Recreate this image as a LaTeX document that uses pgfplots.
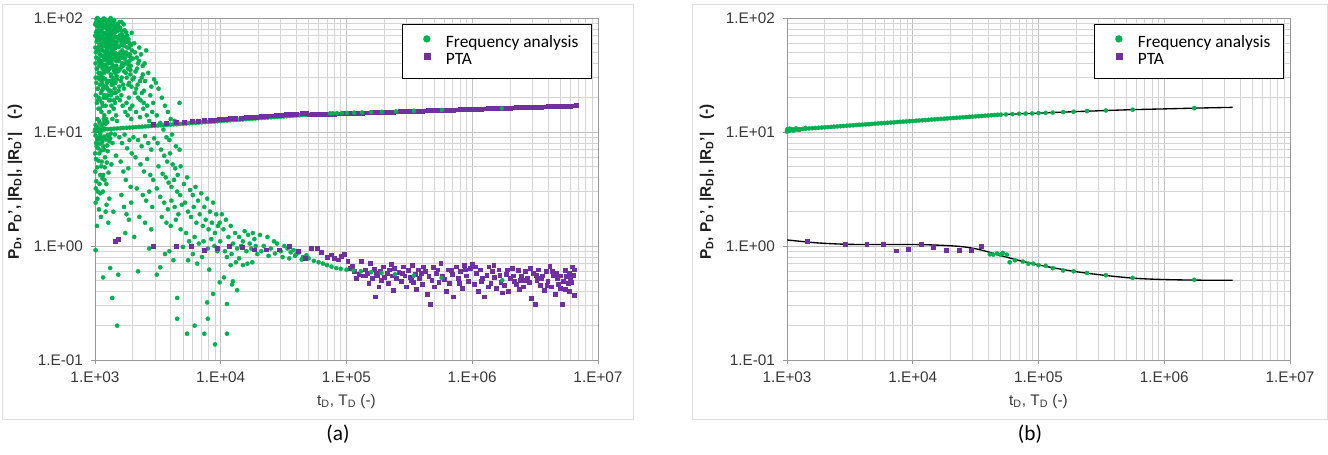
\documentclass[border=0pt]{standalone}
\usepackage{pgfplots}
\pgfplotsset{compat=1.18}
\usepackage{fontspec}
\setmainfont{Liberation Sans}
\newfontfamily\carlito{Carlito}
\definecolor{fgreen}{HTML}{00B050}
\definecolor{fpurple}{HTML}{7030A0}
\begin{document}
\begin{tikzpicture}
\path[use as bounding box] (0pt,0pt) rectangle (996pt,340.5pt);
\draw[black!13, line width=0.75pt] (1.5pt,26.25pt) rectangle (474.75pt,336.75pt);
\draw[black!13, line width=0.75pt] (519pt,26.25pt) rectangle (995.25pt,336.75pt);
\node[font=\carlito\fontsize{16}{18}\selectfont] at (253.5pt,15pt) {(a)};
\node[font=\carlito\fontsize{16}{18}\selectfont] at (772.5pt,15pt) {(b)};

% ---------------- panel (a)
\begin{axis}[
    at={(71.25pt,70.5pt)},
    scale only axis, width=377.25pt, height=256.5pt, anchor=south west,
    xmode=log, ymode=log, xmin=1e3, xmax=1e7, ymin=0.1, ymax=100,
    xtick={1e3,1e4,1e5,1e6,1e7}, xticklabels={1.E+03,1.E+04,1.E+05,1.E+06,1.E+07},
    ytick={0.1,1,10,100}, yticklabels={1.E-01,1.E+00,1.E+01,1.E+02},
    minor xtick={2e3,3e3,4e3,5e3,6e3,7e3,8e3,9e3,2e4,3e4,4e4,5e4,6e4,7e4,8e4,9e4,2e5,3e5,4e5,5e5,6e5,7e5,8e5,9e5,2e6,3e6,4e6,5e6,6e6,7e6,8e6,9e6},
    minor ytick={0.2,0.3,0.4,0.5,0.6,0.7,0.8,0.9,2,3,4,5,6,7,8,9,20,30,40,50,60,70,80,90},
    grid=both, major grid style={black!24, line width=0.55pt}, minor grid style={black!17, line width=0.55pt},
    axis line style={black!40, line width=0.7pt},
    tick align=outside, major tick length=3pt, minor tick length=0pt, xtick pos=bottom, ytick pos=left,
    tick style={black!40, line width=0.6pt},
    ticklabel style={font=\fontsize{11.5}{13}\selectfont, text=black!78},
    xticklabel style={yshift=-2pt},
    yticklabel style={xshift=-2.5pt},
    xlabel={t\textsubscript{D}, T\textsubscript{D} (-)},
    xlabel style={at={(axis description cs:0.5,-0.12)}, anchor=center, font=\fontsize{11.5}{13}\selectfont, text=black!78},
    ylabel={\bfseries P\textsubscript{D}, P\textsubscript{D}', |R\textsubscript{D}|, |R\textsubscript{D}'|\ \ \ (-)},
    ylabel style={at={(axis description cs:-0.159,0.52)}, anchor=center, font=\fontsize{11.5}{13}\selectfont, text=black!88},
    legend style={at={(rel axis cs:1,1)}, anchor=north east, xshift=-4.5pt, yshift=-4.5pt,
      draw=black, line width=1pt, fill=white, inner xsep=9.75pt, inner ysep=7.5pt,
      font=\carlito\fontsize{13}{15}\selectfont, column sep=4.25pt, row sep=0pt,
      nodes={inner sep=0pt, text height=9.5pt, text depth=3.25pt}},
    legend cell align=left,
    legend image code/.code={\path (-8.25pt,0pt) (10pt,0pt); \draw[#1, line width=0.3pt, every mark/.append style={scale=1.6}] plot coordinates {(0pt,3.2pt)};},
]
\addplot[only marks, mark=*, color=fgreen, mark size=1.6pt, line width=0.2pt] coordinates {
(1000,10.40) (1059,10.45) (1122,10.50) (1189,10.54) (1259,10.59) (1334,10.64) (1413,10.69) (1496,10.74) (1585,10.79) (1679,10.84)
(1778,10.89) (1884,10.94) (1995,10.99) (2113,11.04) (2239,11.09) (2371,11.14) (2512,11.19) (2661,11.24) (2818,11.29) (2985,11.35)
(3162,11.40) (3350,11.45) (3548,11.51) (3758,11.56) (3981,11.61) (4217,11.67) (4467,11.72) (4732,11.78) (5012,11.83) (5309,11.89)
(5623,11.94) (5957,12.00) (6310,12.05) (6683,12.11) (7079,12.16) (7499,12.22) (7943,12.27) (8414,12.33) (8913,12.39) (9441,12.44)
(10000,12.50) (10593,12.56) (11220,12.62) (11885,12.67) (12589,12.73) (13335,12.79) (14125,12.85) (14962,12.91) (15849,12.97) (16788,13.03)
(17783,13.09) (18836,13.15) (19953,13.21) (21135,13.27) (22387,13.33) (23714,13.39) (25119,13.46) (26607,13.52) (28184,13.58) (29854,13.64)
(31623,13.71) (33497,13.77) (35481,13.83) (37584,13.90) (39811,13.96) (42170,14.02) (44668,14.09) (47315,14.15) (50119,14.20) (53088,14.25) (56234,14.30)
(1000,10.1) (1010,10.6) (1020,10.2) (1030,10.5) (1040,10.3) (1050,10.7) (1070,10.4) (1090,10.55) (1130,10.3) (1180,10.75)
(1020,92) (1050,78) (1080,96) (1110,85) (1140,70) (1170,99) (1030,62) (1060,55) (1090,48) (1120,60) (1150,52) (1180,45) (1010,40) (1040,36) (1070,42) (1100,33) (1130,38) (1160,30) (1190,35) (1025,27) (1055,24) (1085,29) (1115,22) (1145,26) (1175,20) (1035,18) (1065,16) (1095,19) (1125,15) (1155,17) (1185,14) (1045,13) (1075,12.5) (1105,9) (1135,8.5) (1165,7.5) (1010,0.92) (1160,0.53) (1190,3.8) (1100,4.2) (1130,5.5)
(1210,97) (1240,88) (1270,93) (1300,80) (1330,100) (1360,90) (1390,84) (1420,96) (1450,75) (1480,68) (1220,72) (1250,64) (1280,57) (1310,66) (1340,50) (1370,58) (1400,47) (1430,54) (1460,44) (1490,62) (1215,39) (1245,45) (1275,35) (1305,41) (1335,32) (1365,37) (1395,29) (1425,34) (1455,27) (1485,31) (1230,25) (1260,21) (1290,23) (1320,19) (1350,17) (1380,22) (1410,16) (1440,18) (1470,14) (1500,20) (1225,13) (1290,9.2) (1320,8.8) (1380,8.0) (1440,9.5) (1260,6.8) (1350,5.2) (1470,6.2) (1230,3.5) (1300,2.6) (1400,2.0) (1320,0.64) (1370,0.35) (1500,0.2) (1530,0.56)
(1005,70) (1015,50) (1035,85) (1045,100) (1065,33) (1075,68) (1085,58) (1095,76) (1105,40) (1115,90) (1125,47) (1135,28) (1145,62) (1155,82) (1165,39) (1175,57) (1185,74) (1195,25) (1205,50) (1215,60) (1235,55) (1255,78) (1265,42) (1285,70) (1295,48) (1315,86) (1325,28) (1345,63) (1355,40) (1375,74) (1385,26) (1405,66) (1415,35) (1435,82) (1445,59) (1465,49) (1475,38) (1495,77) (1505,36) (1525,56) (1545,66) (1565,44) (1585,71) (1605,28) (1625,60) (1645,52) (1665,38) (1685,46) (1705,57) (1725,44) (1745,68) (1765,50) (1785,41) (1805,62) (1825,47) (1845,39) (1865,55) (1885,42) (1905,35) (1925,45)
(1015,21) (1055,19) (1095,16) (1135,23) (1175,13) (1215,17) (1255,24) (1295,15) (1335,21) (1375,13) (1415,19) (1455,22) (1495,12.5) (1010,11.5) (1050,11) (1090,12) (1130,11.5) (1170,12) (1210,11.8) (1250,12.2)
(1010,9.3) (1040,9) (1070,8.7) (1100,9.6) (1140,8.2) (1180,9.1) (1220,8.6) (1260,9.4) (1300,8.3) (1340,9.7) (1020,8.0) (1060,7.2) (1080,6.5) (1120,5.0) (1160,4.2) (1200,6.0) (1240,5.4) (1280,4.4) (1015,3.2) (1045,2.6) (1075,2.1) (1115,1.8) (1155,3.0) (1235,2.3) (1275,1.6)
(1003,88) (1008,55) (1012,30) (1018,75) (1022,45) (1028,98) (1032,36) (1038,66) (1042,24) (1048,52) (1052,90) (1058,30) (1062,72) (1068,44) (1072,20) (1078,84) (1082,38) (1088,64) (1092,26) (1098,52)
(1102,94) (1108,68) (1112,31) (1118,55) (1122,78) (1128,42) (1132,66) (1138,18) (1142,88) (1148,36) (1152,58) (1158,24) (1162,74) (1168,46) (1172,95) (1178,33) (1182,62) (1188,21) (1192,84) (1198,43) (1202,66) (1208,29) (1212,88) (1218,48) (1222,20) (1228,82) (1232,37) (1238,68) (1242,27) (1248,53)
(1252,92) (1258,34) (1262,70) (1268,50) (1272,28) (1278,86) (1282,40) (1288,62) (1292,19) (1298,74) (1302,36) (1308,55) (1312,96) (1318,45) (1322,70) (1328,23) (1332,58) (1338,85) (1342,31) (1348,47) (1352,76) (1358,26) (1362,52) (1368,92) (1372,43) (1378,64) (1382,30) (1388,56) (1392,78) (1398,38) (1402,88) (1408,50) (1412,28) (1418,70) (1422,44) (1428,62) (1432,24) (1438,46) (1442,90) (1448,33)
(1452,55) (1462,80) (1472,42) (1482,58) (1492,29) (1502,88) (1512,47) (1522,68) (1532,34) (1542,78) (1552,56) (1562,25) (1572,48) (1582,82) (1592,36) (1602,64) (1612,45) (1622,92) (1632,30) (1642,72) (1652,40) (1662,58) (1672,26) (1682,66) (1692,48)
(1720,78) (1760,33) (1800,70) (1840,26) (1880,60) (1920,38) (1960,74) (2000,44) (2040,30) (2080,50) (2120,24) (2160,36) (2200,20) (2240,42) (2280,28) (2320,48) (2360,22) (2400,32) (2440,18) (2480,40)
(1002,6.5) (1006,4.5) (1012,2.4) (1018,5.8) (1024,3.7) (1030,7.5) (1036,1.5) (1042,4.9) (1048,8.5) (1054,3.0) (1064,5.6) (1086,3.5) (1096,7.9) (1106,2.9) (1126,6.9) (1146,3.9) (1176,7.0) (1196,4.9) (1216,2.0) (1250,7.6)
(1530,85) (1570,92) (1610,78) (1650,70) (1690,88) (1730,62) (1770,75) (1810,55) (1850,65) (1890,48) (1930,58) (1970,52) (1550,42) (1590,50) (1630,38) (1670,45) (1710,34) (1750,40) (1790,30) (1830,36) (1870,27) (1910,32) (1950,25) (1990,29) (1540,23) (1580,19) (1620,21) (1660,17) (1700,24) (1740,15) (1780,18) (1820,14) (1860,20) (1900,16) (1940,13) (1980,17) (1560,9) (1640,8) (1720,9.5) (1800,7.2) (1880,8.5) (1960,6.5) (1600,5.5) (1680,4.5) (1760,3.8) (1840,4.8) (1920,3.3) (1620,2.8) (1700,2.2) (1780,1.9) (1860,1.7) (1940,2.4) (2200,0.6) (1740,1.3)
(2050,60) (2150,45) (2250,55) (2400,38) (2550,52) (2100,34) (2200,40) (2350,30) (2500,28) (2650,33) (2800,25) (2950,29) (2080,22) (2180,26) (2300,19) (2450,23) (2600,17) (2750,21) (2900,18) (2120,15) (2280,13.5) (2420,16) (2580,14) (2700,12.5) (2850,15) (2020,9) (2200,8.5) (2350,7.5) (2500,9.2) (2650,8) (2800,7) (2950,8.8) (2100,6) (2300,5.2) (2450,4.5) (2600,5.8) (2750,4.2) (2900,3.8) (2150,3.2) (2400,2.8) (2550,2.5) (2700,3.0) (2850,2.2) (2250,1.8) (2500,1.6) (2800,1.4) (3100,0.56) (2050,1.2) (2700,0.95)
(3050,27) (3200,24) (3400,20) (3600,17) (3800,15) (4000,13) (4300,12.5) (4700,18) (3100,14) (3300,12) (3500,10.5) (3700,9) (3900,8.5) (4100,9.5) (4400,7.5) (4700,7) (3150,8) (3350,7) (3550,6.2) (3750,5.5) (3950,6.5) (4150,5.2) (4350,4.8) (4550,4.2) (4800,5.0) (3200,5) (3450,4.3) (3650,4) (3850,3.6) (4050,3.3) (4250,3.8) (4500,3.0) (4750,2.8) (3100,3.2) (3300,2.7) (3550,2.4) (3800,2.1) (4050,2.5) (4300,2.2) (4600,1.9) (4900,2.3) (3400,1.8) (3700,1.6) (4000,1.5) (4400,1.7) (4800,1.4) (3300,0.65) (3900,0.9) (4200,0.75) (4500,0.35) (4500,0.23) (3600,0.85) (5000,0.98)
(5100,3.5) (5400,4.0) (5700,3.1) (6000,2.8) (6300,3.3) (6600,2.5) (7000,2.9) (7400,2.2) (7800,2.6) (8200,2.0) (8700,2.4) (9200,1.9) (9800,1.6) (5200,2.4) (5500,2.0) (5800,1.8) (6100,2.2) (6400,1.6) (6800,1.9) (7200,1.5) (7600,1.7) (8000,1.4) (8500,1.6) (9000,1.3) (9500,1.5) (5300,1.3) (5600,1.1) (6200,1.2) (6700,1.05) (7300,1.1) (7900,0.95) (8400,1.15) (8900,1.0) (9400,0.9) (9900,1.1) (5500,0.75) (6000,0.85) (6500,0.7) (7100,0.8) (8100,0.62)
(5400,0.17) (6200,0.2) (7400,0.17) (7900,0.23) (7800,0.32) (8700,0.38) (9000,0.137) (11200,0.17) (11200,0.31) (9800,0.48) (10600,0.53) (12300,0.46) (13500,0.41) (12500,0.49)
(10200,1.9) (10500,1.4) (11000,1.7) (11500,1.2) (12000,1.5) (12500,1.05) (13000,1.3) (13500,0.95) (14000,1.2) (14500,1.0) (15000,1.1) (15500,1.35) (16000,0.9) (16500,1.25) (17000,1.05) (17500,0.95) (18000,1.3) (18500,1.15) (19000,1.0) (19500,0.85) (10800,0.9) (11200,0.8) (12200,0.85) (13200,0.72) (15000,0.68) (16300,0.7) (17800,0.72) (12000,0.68) (14000,0.78)
(20500,1.25) (22000,1.0) (23500,1.2) (25000,0.95) (26500,1.1) (28000,1.05) (30000,0.9) (32000,1.0) (34000,0.95) (36000,0.88) (38000,0.92) (40000,0.85) (42000,0.88) (45000,0.8) (48000,0.83) (21000,0.9) (24000,0.82) (27000,0.86) (31000,0.8) (35000,0.78) (39000,0.82) (44000,0.76) (50000,0.78) (55000,0.74) (60000,0.72) (65000,0.7)
};
\addlegendentry{Frequency analysis}
\addplot[only marks, mark=square*, color=fpurple, mark size=1.45pt, line width=0.2pt] coordinates {
(50119,14.20) (53088,14.23) (56234,14.26) (59566,14.29) (63096,14.32) (66834,14.35) (70795,14.38) (74989,14.41) (79433,14.45) (84140,14.48)
(89125,14.51) (94406,14.54) (100000,14.57) (105930,14.61) (112200,14.64) (118850,14.67) (125890,14.70) (133350,14.73) (141250,14.77) (149620,14.80)
(158490,14.83) (167880,14.86) (177830,14.89) (188360,14.93) (199530,14.96) (211350,14.99) (223870,15.02) (237140,15.05) (251190,15.09) (266070,15.12)
(281840,15.15) (298540,15.18) (316230,15.22) (334970,15.25) (354810,15.29) (375840,15.32) (398110,15.35) (421700,15.39) (446680,15.42) (473150,15.46)
(501190,15.49) (530880,15.52) (562340,15.56) (595660,15.59) (630960,15.63) (668340,15.66) (707950,15.69) (749890,15.73) (794330,15.76) (841400,15.80)
(891250,15.83) (944060,15.86) (1000000,15.90) (1059300,15.93) (1122000,15.97) (1188500,16.00) (1258900,16.03) (1333500,16.07) (1412500,16.10) (1496200,16.14)
(1584900,16.17) (1678800,16.21) (1778300,16.24) (1883600,16.28) (1995300,16.31) (2113500,16.35) (2238700,16.39) (2371400,16.42) (2511900,16.46) (2660700,16.49)
(2818400,16.53) (2985400,16.57) (3162300,16.60) (3349700,16.64) (3548100,16.67) (3758400,16.71) (3981100,16.75) (4217000,16.78) (4466800,16.82) (4731500,16.85)
(5011900,16.89) (5308800,16.93) (5623400,16.96) (5956600,17.00) (6309600,17.03) (6683400,17.06)
(2900,11.72) (3650,11.94) (4400,12.12) (5150,12.27) (5900,12.41) (6650,12.52) (7400,12.63) (8150,12.73) (8900,12.82) (9650,12.90) (10400,12.98) (11150,13.05) (11900,13.12) (13000,13.21) (14500,13.33) (16000,13.44) (17500,13.53) (19000,13.62) (21000,13.73) (23000,13.83) (25000,13.93) (27500,14.03) (30000,14.13) (33000,14.24) (36000,14.34) (40000,14.46) (44000,14.57) (48000,14.67)
(1450,1.1) (1520,1.15) (2900,1.0) (4400,1.0) (5800,1.0) (7400,0.92) (9300,0.95) (11700,1.0) (14700,0.98) (18400,0.93) (23000,0.93) (29000,0.93) (35000,1.0) (41000,0.9) (47000,0.78) (52000,0.95) (58000,0.95) (63000,0.88) (70000,0.80)
(75000,0.84) (80000,0.78) (86000,0.76) (91000,0.82) (96000,0.85) (102000,0.74) (107000,0.64) (110000,0.67)
(1.15e5,0.60) (1.2e5,0.52) (1.25e5,0.57) (1.3e5,0.74) (1.35e5,0.55) (1.4e5,0.62) (1.45e5,0.58) (1.5e5,0.47) (1.55e5,0.71) (1.6e5,0.52) (1.65e5,0.63) (1.7e5,0.36) (1.75e5,0.56) (1.8e5,0.44) (1.85e5,0.60) (1.9e5,0.50) (1.95e5,0.66) (2.0e5,0.53) (2.1e5,0.58) (2.15e5,0.47) (2.2e5,0.62) (2.3e5,0.55) (2.35e5,0.41) (2.4e5,0.64) (2.5e5,0.52) (2.6e5,0.59) (2.7e5,0.49) (2.8e5,0.66) (2.9e5,0.55) (3.0e5,0.44)
(3.1e5,0.61) (3.2e5,0.53) (3.3e5,0.68) (3.4e5,0.48) (3.5e5,0.57) (3.6e5,0.42) (3.7e5,0.62) (3.8e5,0.52) (3.9e5,0.58) (4.0e5,0.46) (4.2e5,0.60) (4.35e5,0.38) (4.5e5,0.54) (4.6e5,0.31) (4.75e5,0.50) (4.9e5,0.65) (5.0e5,0.44) (5.2e5,0.58) (5.4e5,0.48) (5.6e5,0.71) (5.8e5,0.55) (6.0e5,0.51) (6.2e5,0.40) (6.4e5,0.62) (6.6e5,0.47) (6.9e5,0.57) (7.1e5,0.36) (7.4e5,0.66) (7.7e5,0.52) (8.0e5,0.60)
(8.3e5,0.43) (8.6e5,0.68) (9.0e5,0.55) (9.3e5,0.49) (9.6e5,0.64) (1.0e6,0.70) (1.04e6,0.46) (1.08e6,0.58) (1.12e6,0.40) (1.16e6,0.62) (1.2e6,0.52) (1.25e6,0.36) (1.3e6,0.56) (1.35e6,0.66) (1.4e6,0.47) (1.45e6,0.60) (1.5e6,0.53) (1.56e6,0.43) (1.62e6,0.62) (1.68e6,0.48) (1.74e6,0.39) (1.8e6,0.45) (1.86e6,0.57) (1.93e6,0.40) (2.0e6,0.52) (2.07e6,0.64) (2.14e6,0.49) (2.22e6,0.46) (2.3e6,0.61) (2.38e6,0.50)
(2.46e6,0.55) (2.55e6,0.44) (2.64e6,0.60) (2.73e6,0.52) (2.83e6,0.48) (2.93e6,0.35) (3.03e6,0.58) (3.14e6,0.31) (3.25e6,0.50) (3.36e6,0.62) (3.48e6,0.45) (3.6e6,0.55) (3.72e6,0.41) (3.85e6,0.60) (3.98e6,0.49) (4.12e6,0.67) (4.26e6,0.44) (4.4e6,0.56) (4.55e6,0.38) (4.7e6,0.52) (4.85e6,0.46) (5.0e6,0.43) (5.15e6,0.31) (5.3e6,0.49) (5.45e6,0.42) (5.6e6,0.54) (5.75e6,0.47) (5.9e6,0.58) (6.05e6,0.52) (6.2e6,0.66) (6.35e6,0.56) (6.5e6,0.37)
(1.06e6,0.66) (1.18e6,0.49) (1.33e6,0.44) (1.48e6,0.68) (1.65e6,0.56) (1.9e6,0.62) (2.1e6,0.55) (2.35e6,0.42) (2.6e6,0.50) (2.9e6,0.64) (3.2e6,0.56) (3.55e6,0.52) (3.9e6,0.45) (4.3e6,0.60) (4.65e6,0.58) (5.05e6,0.55) (5.5e6,0.61) (5.85e6,0.40) (6.15e6,0.48) (6.45e6,0.62) (2.25e5,0.69) (2.75e5,0.58) (3.25e5,0.50) (4.1e5,0.66) (5.3e5,0.62) (6.8e5,0.61) (7.9e5,0.47) (8.8e5,0.62) (1.4e5,0.55) (1.72e5,0.58)
};
\addlegendentry{PTA}
\addplot[only marks, mark=*, color=fgreen, mark size=1.6pt, line width=0.2pt, forget plot] coordinates {
(7.4e4,14.55) (7.8e4,14.58) (8.4e4,14.62) (9.2e4,14.66) (1.01e5,14.7) (1.15e5,14.76) (1.33e5,14.84) (1.57e5,14.92) (1.91e5,15.02) (2.48e5,15.16) (3.44e5,15.34) (5.74e5,15.6) (1.72e6,16.1)
(70000,0.68) (76000,0.66) (83000,0.64) (90000,0.63) (100000,0.62) (1.14e5,0.61) (1.3e5,0.6) (1.57e5,0.59) (1.9e5,0.58) (2.43e5,0.565) (3.44e5,0.55) (5.7e5,0.525) (1.73e6,0.5)
};
\end{axis}

% ---------------- panel (b)
\begin{axis}[
    at={(590.25pt,70.5pt)},
    scale only axis, width=377.25pt, height=256.5pt, anchor=south west,
    xmode=log, ymode=log, xmin=1e3, xmax=1e7, ymin=0.1, ymax=100,
    xtick={1e3,1e4,1e5,1e6,1e7}, xticklabels={1.E+03,1.E+04,1.E+05,1.E+06,1.E+07},
    ytick={0.1,1,10,100}, yticklabels={1.E-01,1.E+00,1.E+01,1.E+02},
    minor xtick={2e3,3e3,4e3,5e3,6e3,7e3,8e3,9e3,2e4,3e4,4e4,5e4,6e4,7e4,8e4,9e4,2e5,3e5,4e5,5e5,6e5,7e5,8e5,9e5,2e6,3e6,4e6,5e6,6e6,7e6,8e6,9e6},
    minor ytick={0.2,0.3,0.4,0.5,0.6,0.7,0.8,0.9,2,3,4,5,6,7,8,9,20,30,40,50,60,70,80,90},
    grid=both, major grid style={black!24, line width=0.55pt}, minor grid style={black!17, line width=0.55pt},
    axis line style={black!40, line width=0.7pt},
    tick align=outside, major tick length=3pt, minor tick length=0pt, xtick pos=bottom, ytick pos=left,
    tick style={black!40, line width=0.6pt},
    ticklabel style={font=\fontsize{11.5}{13}\selectfont, text=black!78},
    xticklabel style={yshift=-2pt},
    yticklabel style={xshift=-2.5pt},
    xlabel={t\textsubscript{D}, T\textsubscript{D} (-)},
    xlabel style={at={(axis description cs:0.5,-0.12)}, anchor=center, font=\fontsize{11.5}{13}\selectfont, text=black!78},
    ylabel={\bfseries P\textsubscript{D}, P\textsubscript{D}', |R\textsubscript{D}|, |R\textsubscript{D}'|\ \ \ (-)},
    ylabel style={at={(axis description cs:-0.159,0.52)}, anchor=center, font=\fontsize{11.5}{13}\selectfont, text=black!88},
    legend style={at={(rel axis cs:1,1)}, anchor=north east, xshift=-4.5pt, yshift=-4.5pt,
      draw=black, line width=1pt, fill=white, inner xsep=9.75pt, inner ysep=7.5pt,
      font=\carlito\fontsize{13}{15}\selectfont, column sep=4.25pt, row sep=0pt,
      nodes={inner sep=0pt, text height=9.5pt, text depth=3.25pt}},
    legend cell align=left,
    legend image code/.code={\path (-8.25pt,0pt) (10pt,0pt); \draw[#1, line width=0.3pt, every mark/.append style={scale=1.6}] plot coordinates {(0pt,3.2pt)};},
]
\addplot[black, line width=1pt, smooth, forget plot] coordinates {
(1000,10.4) (3000,11.4) (1e4,12.5) (3e4,13.65) (5e4,14.2) (1e5,14.65) (2e5,15.1) (5e5,15.65) (1e6,15.95) (2e6,16.25) (3.5e6,16.45)};
\addplot[black, line width=1pt, smooth, forget plot] coordinates {
(1000,1.13) (1500,1.08) (2000,1.055) (3000,1.035) (5000,1.03) (1e4,1.03) (1.5e4,1.02) (2.4e4,0.99) (3.4e4,0.93) (4.9e4,0.83) (8e4,0.72) (1.3e5,0.645) (2e5,0.595) (3.5e5,0.55) (6e5,0.52) (1e6,0.508) (1.8e6,0.502) (3.5e6,0.5)};
\addplot[only marks, mark=*, color=fgreen, mark size=1.6pt, line width=0.2pt] coordinates {
(1000,10.40) (1059,10.45) (1122,10.50) (1189,10.54) (1259,10.59) (1334,10.64) (1413,10.69) (1496,10.74) (1585,10.79) (1679,10.84)
(1778,10.89) (1884,10.94) (1995,10.99) (2113,11.04) (2239,11.09) (2371,11.14) (2512,11.19) (2661,11.24) (2818,11.29) (2985,11.35)
(3162,11.40) (3350,11.45) (3548,11.51) (3758,11.56) (3981,11.61) (4217,11.67) (4467,11.72) (4732,11.78) (5012,11.83) (5309,11.89)
(5623,11.94) (5957,12.00) (6310,12.05) (6683,12.11) (7079,12.16) (7499,12.22) (7943,12.27) (8414,12.33) (8913,12.39) (9441,12.44)
(10000,12.50) (10593,12.56) (11220,12.62) (11885,12.67) (12589,12.73) (13335,12.79) (14125,12.85) (14962,12.91) (15849,12.97) (16788,13.03)
(17783,13.09) (18836,13.15) (19953,13.21) (21135,13.27) (22387,13.33) (23714,13.39) (25119,13.46) (26607,13.52) (28184,13.58) (29854,13.64)
(31623,13.71) (33497,13.77) (35481,13.83) (37584,13.90) (39811,13.96) (42170,14.02) (44668,14.09) (47315,14.15) (50119,14.20)
(1000,10.1) (1010,10.6) (1020,10.2) (1030,10.5) (1040,10.3) (1050,10.7) (1070,10.4) (1090,10.55) (1130,10.3) (1180,10.75) (1250,10.45) (1400,10.85)
(55000,14.25) (62000,14.35) (70000,14.45) (79000,14.5) (89000,14.55) (1e5,14.65) (1.14e5,14.72) (1.3e5,14.8) (1.57e5,14.95) (1.9e5,15.05) (2.43e5,15.25) (3.44e5,15.45) (5.6e5,15.7) (1.73e6,16.2)
(41000,0.845) (43700,0.84) (46800,0.86) (50000,0.84) (52000,0.87) (56000,0.84) (59000,0.72) (65000,0.75) (75000,0.73) (83000,0.70) (91000,0.70) (1e5,0.68) (1.14e5,0.67) (1.3e5,0.64) (1.57e5,0.61) (1.9e5,0.6) (2.43e5,0.58) (3.44e5,0.555) (5.6e5,0.525) (1.73e6,0.505)
};
\addlegendentry{Frequency analysis}
\addplot[only marks, mark=square*, color=fpurple, mark size=1.45pt, line width=0.2pt] coordinates {
(1450,1.11) (2900,1.035) (4300,1.035) (5800,1.035) (7400,0.91) (9200,0.94) (11600,1.035) (14500,0.98) (18400,0.92) (23300,0.92) (29000,0.92) (35000,0.99)
};
\addlegendentry{PTA}
\end{axis}
\end{tikzpicture}
\end{document}
